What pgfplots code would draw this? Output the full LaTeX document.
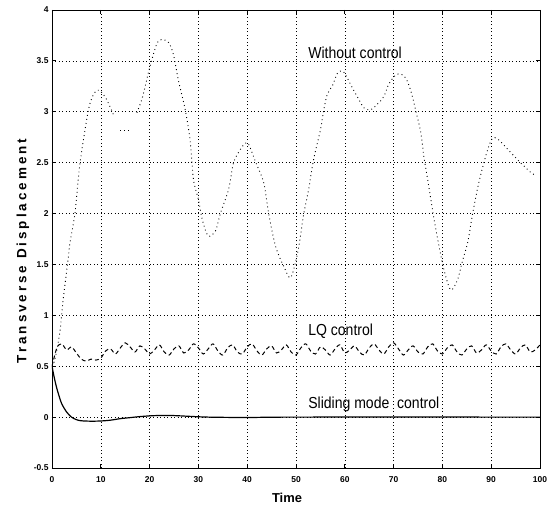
\documentclass[border=0pt]{standalone}
\usepackage{fontspec}
\setmainfont{Liberation Sans}
\newfontfamily\narrowfont[FakeStretch=0.88]{Liberation Sans}
\newfontfamily\spacedfont[LetterSpace=22]{Liberation Sans}
\usepackage{pgfplots}
\pgfplotsset{compat=1.18}
\begin{document}
\begin{tikzpicture}
\begin{axis}[
  scale only axis,
  width=488bp, height=458bp,
  xmin=0, xmax=100, ymin=-0.5, ymax=4,
  xtick={0,10,...,100},
  ytick={-0.5,0,0.5,1,1.5,2,2.5,3,3.5,4},
  yticklabels={-0.5,0,0.5,1,1.5,2,2.5,3,3.5,4},
  tick align=inside,
  major tick length=4bp,
  grid=major,
  major grid style={black, line width=0.6pt, dash pattern=on 1pt off 2.5pt},
  axis line style={black, line width=0.9pt},
  tick style={black, line width=0.8pt},
  /pgf/number format/assume math mode=true,
  ticklabel style={font=\fontsize{8.5}{9}\selectfont\bfseries},
  xticklabel style={yshift=-5bp},
  xlabel={\textbf{Time}},
  ylabel={\spacedfont\bfseries Transverse Displacement},
  xlabel style={font=\fontsize{13}{14}\selectfont, xshift=-9bp, yshift=-4bp},
  ylabel style={font=\fontsize{13.5}{14}\selectfont, yshift=-2bp, xshift=-12bp},
  clip=true,
]
% Without control
\addplot[black, line width=0.9pt, dash pattern=on 0.9pt off 3.2pt, smooth] coordinates {
(0,0.5) (0.6,0.57) (1.6,0.83) (2.3,1.16) (3.3,1.55) (3.7,1.72) (4.7,2.0) (5.75,2.5) (7.4,3.0) (8.3,3.15) (9.2,3.21) (10,3.2) (11.2,3.12) (12.6,2.97)
};
\addplot[black, line width=0.9pt, dash pattern=on 0.9pt off 3.2pt] coordinates {
(14,2.82) (16.4,2.82)
};
\addplot[black, line width=0.9pt, dash pattern=on 0.9pt off 3.2pt, smooth] coordinates {
(17.4,2.99) (18.4,3.12) (19.1,3.25) (20.1,3.45) (21.5,3.67) (22.5,3.71) (23.9,3.68) (24.9,3.56) (25.9,3.31) (27.3,3.02) (28.3,2.72) (29,2.33) (30,2.14) (30.8,1.94) (32,1.78) (33.5,1.83) (34.5,2.0) (36.2,2.24) (37.2,2.5) (38.6,2.63) (39.6,2.69) (40.3,2.68) (41.7,2.51) (43.4,2.3) (44.4,2.0) (45.8,1.68) (47.5,1.48) (48.9,1.37) (50.2,1.58) (50.6,1.68) (51.6,2.0) (52.6,2.24) (53.6,2.53) (55,2.82) (55.7,3.02) (56.4,3.17) (57.5,3.26) (58.5,3.38) (59.5,3.4) (60.2,3.36) (61.6,3.23) (62.9,3.12) (63.9,3.04) (65.3,3.02) (67,3.09) (68,3.15) (69,3.27) (70.4,3.36) (71.5,3.37) (72.5,3.33) (73.5,3.21) (74.5,3.02) (75.6,2.79) (76.2,2.56) (77.2,2.27) (78.2,1.97) (79.3,1.68) (80.3,1.45) (81.7,1.25) (83.1,1.35) (84.2,1.55) (85.2,1.72) (86.2,2.0) (87.3,2.27) (88.5,2.5) (89.5,2.66) (90.3,2.74) (91.4,2.73) (94,2.6) (96,2.5) (98.2,2.4) (99,2.38)
};
% LQ control
\addplot[black, line width=1pt, dash pattern=on 4pt off 3pt, smooth] coordinates {
(0,0.50) (1,0.68) (2,0.72) (3,0.66) (4,0.69) (5,0.63) (6,0.57) (7,0.55) (8,0.57) (9,0.56) (10,0.58) (11,0.65) (12,0.67) (13,0.62) (14,0.68) (15,0.73) (16,0.69) (17,0.64) (18,0.70) (19,0.67) (20,0.62) (21,0.66) (22,0.71) (23,0.64) (24,0.61) (25,0.67) (26,0.70) (27,0.63) (28,0.66) (29,0.72) (30,0.68) (31,0.62) (32,0.67) (33,0.72) (34,0.65) (35,0.61) (36,0.68) (37,0.71) (38,0.64) (39,0.62) (40,0.69) (41,0.72) (42,0.65) (43,0.61) (44,0.67) (45,0.70) (46,0.63) (47,0.66) (48,0.71) (49,0.64) (50,0.61) (51,0.68) (52,0.72) (53,0.65) (54,0.62) (55,0.69) (56,0.66) (57,0.61) (58,0.67) (59,0.71) (60,0.63) (61,0.66) (62,0.70) (63,0.64) (64,0.61) (65,0.68) (66,0.72) (67,0.66) (68,0.62) (69,0.69) (70,0.73) (71,0.67) (72,0.61) (73,0.66) (74,0.70) (75,0.64) (76,0.62) (77,0.69) (78,0.72) (79,0.65) (80,0.62) (81,0.68) (82,0.71) (83,0.64) (84,0.61) (85,0.67) (86,0.70) (87,0.63) (88,0.66) (89,0.71) (90,0.65) (91,0.62) (92,0.69) (93,0.72) (94,0.66) (95,0.62) (96,0.68) (97,0.71) (98,0.64) (99,0.66) (100,0.71)
};
% Sliding mode control
\addplot[black, line width=1.2pt, smooth] coordinates {
(0,0.5) (0.5,0.38) (1,0.28) (1.5,0.2) (2,0.13) (3,0.05) (4,0.0) (5,-0.025) (6,-0.036) (8,-0.04) (10,-0.038) (12,-0.03) (14,-0.015) (16,-0.005) (18,0.005) (20,0.012) (22,0.016) (25,0.015) (28,0.008) (32,0.0) (40,-0.004) (50,0) (100,0)
};
\node[anchor=west, font=\narrowfont\fontsize{16}{17}\selectfont] at (axis cs:51.8,3.58) {Without control};
\node[anchor=west, font=\narrowfont\fontsize{16}{17}\selectfont] at (axis cs:51.8,0.84) {LQ control};
\node[anchor=west, font=\narrowfont\fontsize{16}{17}\selectfont] at (axis cs:51.8,0.13) {Sliding mode\ \ control};
\end{axis}
\path ([shift={(-52bp,-38bp)}]current axis.south west) rectangle ([shift={(11bp,10bp)}]current axis.north east);
\end{tikzpicture}
\end{document}
